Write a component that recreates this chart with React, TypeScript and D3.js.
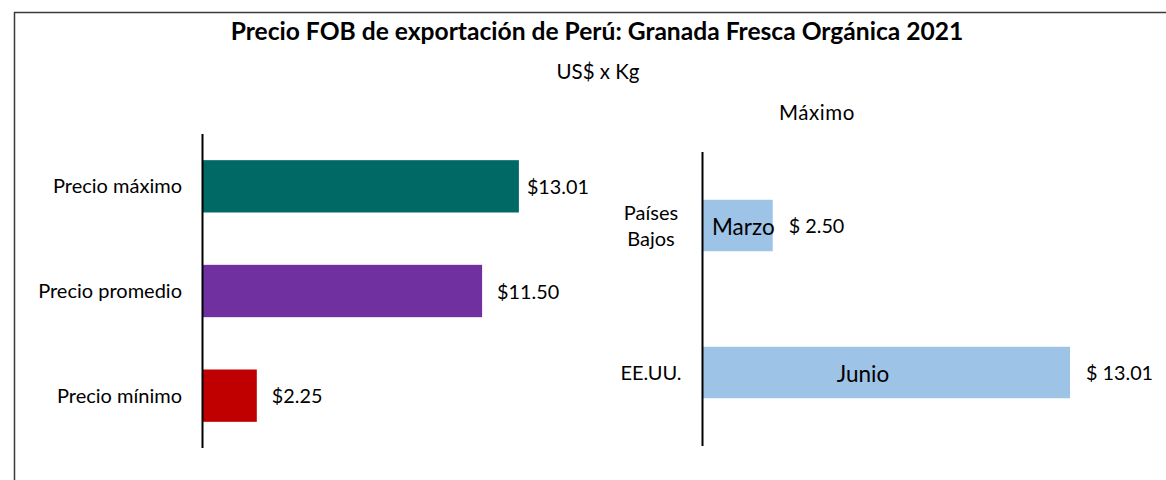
import React from "react";
import * as d3 from "d3";

const W = 1166;
const H = 480;

const title = "Precio FOB de exportación de Perú: Granada Fresca Orgánica 2021";
const subtitle = "US$ x Kg";

// Left chart
const leftCategories = ["Precio máximo", "Precio promedio", "Precio mínimo"];
const leftValues = [13.01, 11.5, 2.25];
const leftColors = ["#006966", "#7030A0", "#C00000"];
const leftLabels = ["$13.01", "$11.50", "$2.25"];

// Right chart
const rightTitle = "Máximo";
const rightCategories = [["Países", "Bajos"], ["EE.UU."]];
const rightValues = [2.5, 13.01];
const rightMonths = ["Marzo", "Junio"];
const rightLabels = ["$ 2.50", "$ 13.01"];
const rightColor = "#9DC3E6";

const FONT = "Lato, 'Open Sans', sans-serif";

export default function App() {
  const lx = d3.scaleLinear().domain([0, 14]).range([202, 202 + 341]);
  const ly = d3
    .scaleBand<string>()
    .domain(leftCategories)
    .range([134, 448])
    .paddingInner(0.5)
    .paddingOuter(0.25);

  const rKeys = rightCategories.map((c) => c.join(" "));
  const rx = d3.scaleLinear().domain([0, 14]).range([702, 702 + 396]);
  const ry = d3
    .scaleBand<string>()
    .domain(rKeys)
    .range([152, 446])
    .paddingInner(0.65)
    .paddingOuter(0.325);

  const leftOffsets = [8, 15, 15];

  return (
    <svg
      width={W}
      height={H}
      style={{ position: "absolute", left: 0, top: 0, display: "block" }}
      fontFamily={FONT}
    >
      <rect x={0} y={0} width={W} height={H} fill="#fff" />
      <line x1={14} y1={12.5} x2={W} y2={12.5} stroke="#3a3a3a" strokeWidth={1.5} />
      <line x1={14.5} y1={12} x2={14.5} y2={H} stroke="#3a3a3a" strokeWidth={1.5} />

      <text x={597} y={40} textAnchor="middle" fontSize={24.6} fontWeight="bold" fill="#000">
        {title}
      </text>
      <text x={598} y={79} textAnchor="middle" fontSize={20.5} fill="#000">
        {subtitle}
      </text>

      {/* Left chart */}
      {leftCategories.map((c, i) => {
        const y = ly(c)!;
        const bw = ly.bandwidth();
        return (
          <g key={c}>
            <rect
              x={lx(0)}
              y={y}
              width={lx(leftValues[i]) - lx(0)}
              height={bw}
              fill={leftColors[i]}
            />
            <text
              x={182}
              y={y + bw / 2}
              dy="0.35em"
              textAnchor="end"
              fontSize={20}
              fill="#000"
            >
              {c}
            </text>
            <text
              x={lx(leftValues[i]) + leftOffsets[i]}
              y={y + bw / 2}
              dy="0.38em"
              fontSize={19.8}
              fill="#000"
            >
              {leftLabels[i]}
            </text>
          </g>
        );
      })}
      <line x1={202.5} y1={134} x2={202.5} y2={448} stroke="#000" strokeWidth={2} />

      {/* Right chart */}
      <text x={817} y={120} textAnchor="middle" fontSize={20.5} letterSpacing={0.6} fill="#000">
        {rightTitle}
      </text>
      {rKeys.map((k, i) => {
        const y = ry(k)!;
        const bw = ry.bandwidth();
        const lines = rightCategories[i];
        const cy = y + bw / 2;
        const isShort = rightValues[i] < 5;
        return (
          <g key={k}>
            <rect
              x={rx(0)}
              y={y}
              width={rx(rightValues[i]) - rx(0)}
              height={bw}
              fill={rightColor}
            />
            {lines.map((ln, j) => (
              <text
                key={ln}
                x={651}
                y={cy + (j - (lines.length - 1) / 2) * 26}
                dy="0.35em"
                textAnchor="middle"
                fontSize={20}
                fill="#000"
              >
                {ln}
              </text>
            ))}
            <text
              x={isShort ? rx(0) + 10 : (rx(0) + rx(rightValues[i])) / 2 - 23}
              y={cy + 2}
              dy="0.35em"
              textAnchor={isShort ? "start" : "middle"}
              fontSize={22.5}
              fill="#000"
            >
              {rightMonths[i]}
            </text>
            <text
              x={rx(rightValues[i]) + 16}
              y={cy}
              dy="0.38em"
              fontSize={19.8}
              fill="#000"
            >
              {rightLabels[i]}
            </text>
          </g>
        );
      })}
      <line x1={702.5} y1={152} x2={702.5} y2={446} stroke="#000" strokeWidth={2} />
    </svg>
  );
}
